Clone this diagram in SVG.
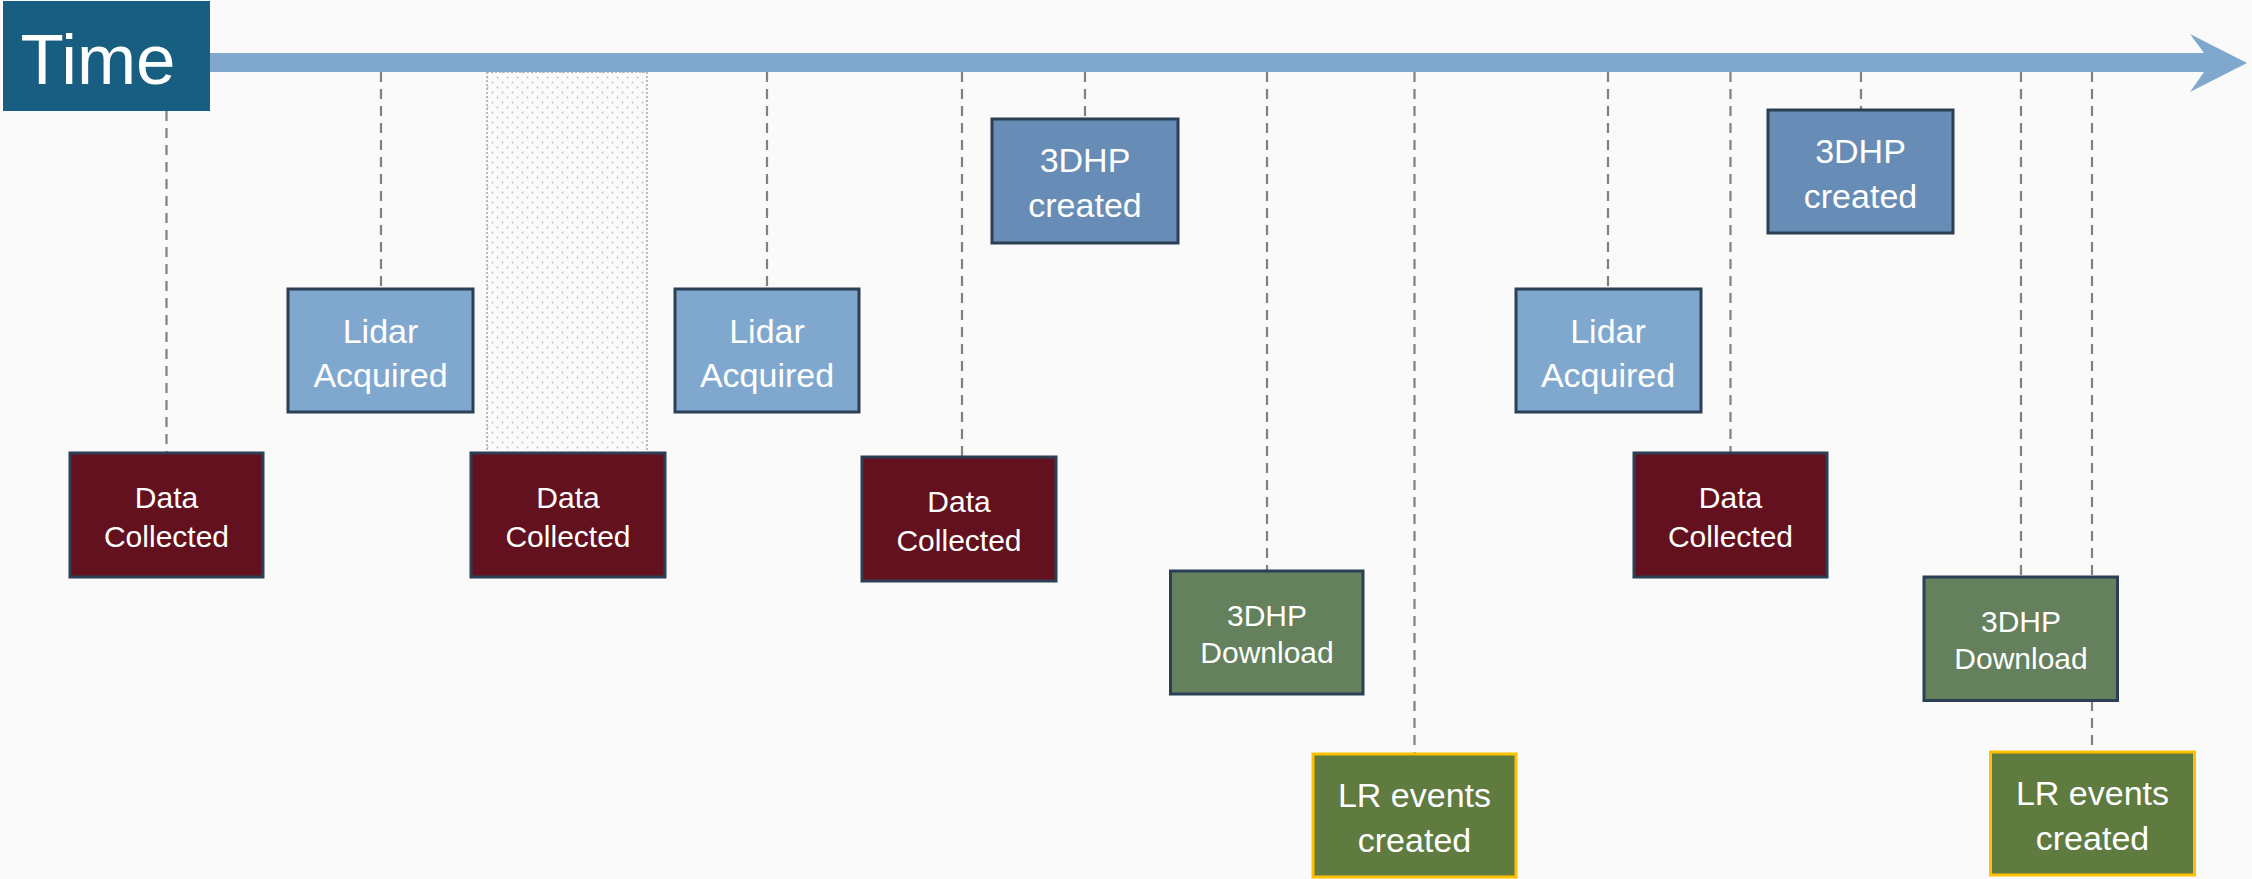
<svg xmlns="http://www.w3.org/2000/svg" width="2252" height="879" viewBox="0 0 2252 879">
<style>
text{font-family:"Liberation Sans",Arial,sans-serif;fill:#ffffff;text-anchor:middle}
.s{font-size:30px}
.l{font-size:34px}
.box{stroke:#2B3F55;stroke-width:3}
.lidar{fill:#80A8CF}
.created{fill:#678CB5}
.data{fill:#63111E}
.dl{fill:#64805D}
.lr{fill:#5F7B40;stroke:#FFC000;stroke-width:3}
.conn line{stroke:#808080;stroke-width:2.2;stroke-dasharray:10 7}
</style>
<defs>
<pattern id="dots" width="10" height="10" patternUnits="userSpaceOnUse">
<circle cx="2.5" cy="2.5" r="0.9" fill="#BDBDBD"/>
<circle cx="7.5" cy="7.5" r="0.9" fill="#BDBDBD"/>
</pattern>
</defs>
<rect x="0" y="0" width="2252" height="879" fill="#FAFAFA"/>
<g id="period">
<rect x="487" y="72" width="160" height="381" fill="url(#dots)" stroke="#A6A6A6" stroke-width="1.5" stroke-dasharray="2 2"/>
</g>
<g id="timeline">
<rect x="205" y="53" width="2000" height="19" fill="#80A8CF"/>
<polygon points="2190,34 2247,63 2190,92 2204,72 2204,53" fill="#80A8CF"/>
</g>
<g class="conn" id="connectors">
<line x1="166.5" y1="111" x2="166.5" y2="453"/>
<line x1="381" y1="72" x2="381" y2="289"/>
<line x1="767" y1="72" x2="767" y2="289"/>
<line x1="962" y1="72" x2="962" y2="457"/>
<line x1="1085" y1="72" x2="1085" y2="119"/>
<line x1="1267" y1="72" x2="1267" y2="571"/>
<line x1="1414.5" y1="72" x2="1414.5" y2="754"/>
<line x1="1608" y1="72" x2="1608" y2="289"/>
<line x1="1730.5" y1="72" x2="1730.5" y2="453"/>
<line x1="1861" y1="72" x2="1861" y2="110"/>
<line x1="2021" y1="72" x2="2021" y2="577"/>
<line x1="2092" y1="72" x2="2092" y2="752"/>
</g>
<g id="time">
<rect x="3" y="1" width="207" height="110" fill="#175E80"/>
<text x="98" y="84" style="font-size:71px">Time</text>
</g>
<g id="data1">
<rect class="box data" x="70" y="453" width="193" height="124"/>
<text class="s" x="166.5" y="508">Data</text>
<text class="s" x="166.5" y="547">Collected</text>
</g>
<g id="lidar1">
<rect class="box lidar" x="288" y="289" width="185" height="123"/>
<text class="l" x="380.5" y="343">Lidar</text>
<text class="l" x="380.5" y="387">Acquired</text>
</g>
<g id="data2">
<rect class="box data" x="471" y="453" width="194" height="124"/>
<text class="s" x="568" y="508">Data</text>
<text class="s" x="568" y="547">Collected</text>
</g>
<g id="lidar2">
<rect class="box lidar" x="675" y="289" width="184" height="123"/>
<text class="l" x="767" y="343">Lidar</text>
<text class="l" x="767" y="387">Acquired</text>
</g>
<g id="data3">
<rect class="box data" x="862" y="457" width="194" height="124"/>
<text class="s" x="959" y="512">Data</text>
<text class="s" x="959" y="551">Collected</text>
</g>
<g id="created1">
<rect class="box created" x="992" y="119" width="186" height="124"/>
<text class="l" x="1085" y="172">3DHP</text>
<text class="l" x="1085" y="217">created</text>
</g>
<g id="download1">
<rect class="box dl" x="1170.5" y="571" width="192.5" height="123"/>
<text class="s" x="1267" y="626">3DHP</text>
<text class="s" x="1267" y="663">Download</text>
</g>
<g id="lr1">
<rect class="lr" x="1313" y="754" width="203" height="123"/>
<text class="l" x="1414.5" y="807">LR events</text>
<text class="l" x="1414.5" y="852">created</text>
</g>
<g id="lidar3">
<rect class="box lidar" x="1516" y="289" width="185" height="123"/>
<text class="l" x="1608" y="343">Lidar</text>
<text class="l" x="1608" y="387">Acquired</text>
</g>
<g id="data4">
<rect class="box data" x="1634" y="453" width="193" height="124"/>
<text class="s" x="1730.5" y="508">Data</text>
<text class="s" x="1730.5" y="547">Collected</text>
</g>
<g id="created2">
<rect class="box created" x="1768" y="110" width="185" height="123"/>
<text class="l" x="1860.5" y="163">3DHP</text>
<text class="l" x="1860.5" y="208">created</text>
</g>
<g id="download2">
<rect class="box dl" x="1924" y="577" width="193.5" height="123.5"/>
<text class="s" x="2021" y="632">3DHP</text>
<text class="s" x="2021" y="669">Download</text>
</g>
<g id="lr2">
<rect class="lr" x="1990.5" y="752" width="204" height="123"/>
<text class="l" x="2092.5" y="805">LR events</text>
<text class="l" x="2092.5" y="850">created</text>
</g>
</svg>
